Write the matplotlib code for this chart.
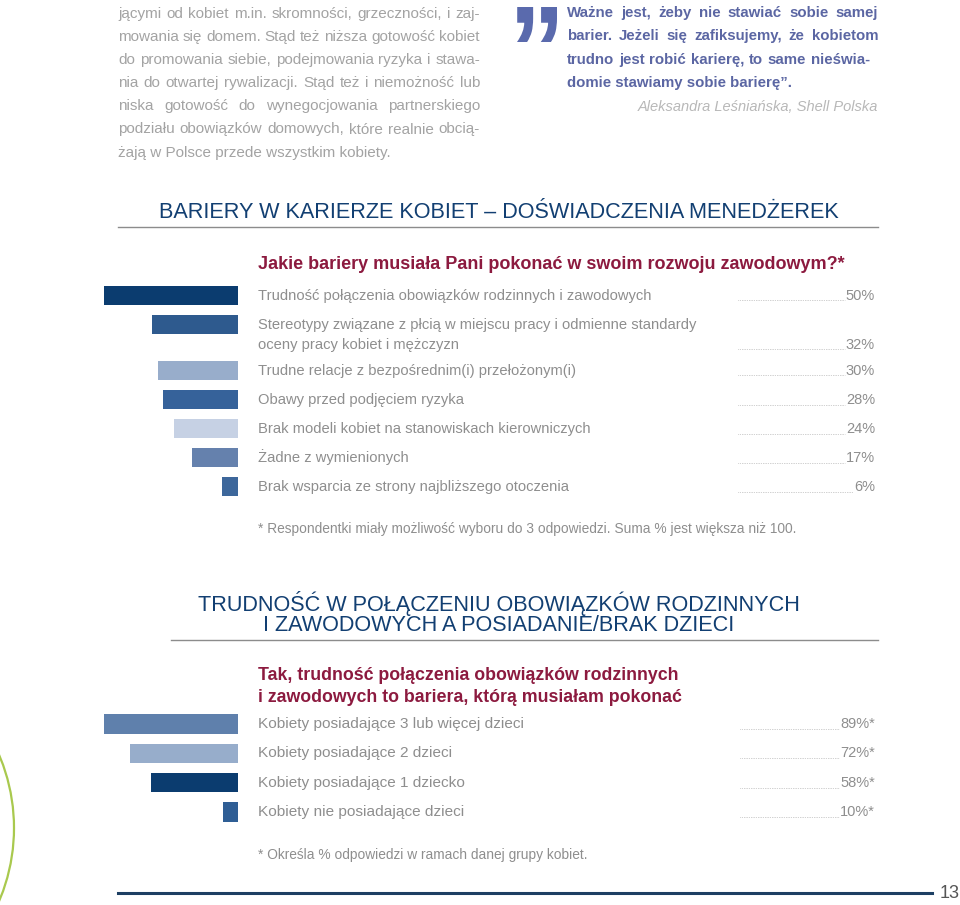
import matplotlib
matplotlib.use('Agg')
import matplotlib.pyplot as plt
from matplotlib.patches import Arc, PathPatch
from matplotlib.textpath import TextPath
from matplotlib.font_manager import FontProperties
from matplotlib.transforms import Affine2D

plt.rcParams['font.family'] = ['Liberation Sans', 'DejaVu Sans']

# ---- data -------------------------------------------------------------
intro_lines = [
    "jącymi od kobiet m.in. skromności, grzeczności, i zaj-",
    "mowania się domem. Stąd też niższa gotowość kobiet",
    "do promowania siebie, podejmowania ryzyka i stawa-",
    "nia do otwartej rywalizacji. Stąd też i niemożność lub",
    "niska gotowość do wynegocjowania partnerskiego",
    "podziału obowiązków domowych, które realnie obcią-",
    "żają w Polsce przede wszystkim kobiety.",
]
quote_lines = [
    "Ważne jest, żeby nie stawiać sobie samej",
    "barier. Jeżeli się zafiksujemy, że kobietom",
    "trudno jest robić karierę, to same nieświa-",
    "domie stawiamy sobie barierę”.",
]
quote_author = "Aleksandra Leśniańska, Shell Polska"

title1 = "BARIERY W KARIERZE KOBIET – DOŚWIADCZENIA MENEDŻEREK"
question1 = "Jakie bariery musiała Pani pokonać w swoim rozwoju zawodowym?*"
barriers = [
    "Trudność połączenia obowiązków rodzinnych i zawodowych",
    "Stereotypy związane z płcią w miejscu pracy i odmienne standardy\noceny pracy kobiet i mężczyzn",
    "Trudne relacje z bezpośrednim(i) przełożonym(i)",
    "Obawy przed podjęciem ryzyka",
    "Brak modeli kobiet na stanowiskach kierowniczych",
    "Żadne z wymienionych",
    "Brak wsparcia ze strony najbliższego otoczenia",
]
barrier_pct = [50, 32, 30, 28, 24, 17, 6]
barrier_colors = ['#0b3c6f', '#2e5a8e', '#98adcb', '#36629a', '#c6d1e4', '#6581ad', '#3d679b']
note1 = "* Respondentki miały możliwość wyboru do 3 odpowiedzi. Suma % jest większa niż 100."

title2 = ["TRUDNOŚĆ W POŁĄCZENIU OBOWIĄZKÓW RODZINNYCH",
          "I ZAWODOWYCH A POSIADANIE/BRAK DZIECI"]
question2 = ["Tak, trudność połączenia obowiązków rodzinnych",
             "i zawodowych to bariera, którą musiałam pokonać"]
children_groups = [
    "Kobiety posiadające 3 lub więcej dzieci",
    "Kobiety posiadające 2 dzieci",
    "Kobiety posiadające 1 dziecko",
    "Kobiety nie posiadające dzieci",
]
children_pct = [89, 72, 58, 10]
children_colors = ['#5f80ac', '#97adcb', '#0b3c6f', '#2f5e95']
note2 = "* Określa % odpowiedzi w ramach danej grupy kobiet."

# ---- colours ------------------------------------------------------------
NAVY = '#123f72'
CRIMSON = '#8c1a3f'
GREY = '#8e8e8e'
LIGHT = '#a3a3a3'
QUOTE = '#5b66a3'

W, H = 960, 905
fig = plt.figure(figsize=(W / 100, H / 100), dpi=100)
page = fig.add_axes([0, 0, 1, 1])
page.set_xlim(0, W)
page.set_ylim(H, 0)
page.axis('off')
renderer = fig.canvas.get_renderer()


def text_width(t):
    return t.get_window_extent(renderer).width


def justified(lines, x0, right_edges, y0, dy, **kw):
    # last line stays left-aligned, the others are spread to their right edge
    for i, line in enumerate(lines):
        y = y0 + i * dy
        words = line.split()
        if i == len(lines) - 1:
            page.text(x0, y, line, va='center', **kw)
            continue
        texts = [page.text(0, y, w, va='center', **kw) for w in words]
        widths = [text_width(t) for t in texts]
        gap = (right_edges[i] - x0 - sum(widths)) / (len(words) - 1)
        x = x0
        for t, w in zip(texts, widths):
            t.set_x(x)
            x += w + gap


def bar_panel(labels, values, colors, y_start, pitch, extra, pct_fmt, lead_x0, size):
    # rows: one per label, taller rows for two-line labels
    centers = []
    y = y_start
    for lab in labels:
        centers.append(y)
        y += pitch + extra * lab.count('\n')
    top, bottom = centers[0] - 15, centers[-1] + 15
    right, width_px = 238, 134
    ax = fig.add_axes([(right - width_px) / W, 1 - bottom / H,
                       width_px / W, (bottom - top) / H])
    ax.barh(centers, values, height=19.5, color=colors)
    ax.set_xlim(max(values), 0)
    ax.set_ylim(bottom, top)
    ax.axis('off')

    for c, lab, v in zip(centers, labels, values):
        parts = lab.split('\n')
        for k, p in enumerate(parts):
            page.text(258, c + 20 * k, p, fontsize=size, color=GREY, va='center')
        yl = c + 20 * (len(parts) - 1)
        pt = page.text(875, yl, pct_fmt.format(v), fontsize=10.5, color=GREY,
                       va='center', ha='right')
        x_end = 875 - text_width(pt) - 1
        page.plot([lead_x0, x_end], [yl + 5, yl + 5], ls=(0, (0.6, 1.2)),
                  lw=0.7, color='#b0b0b0')
    return centers


# ---- top: paragraph and quote ----------------------------------------
justified(intro_lines, 118, [480] * len(intro_lines), 14, 23.1,
          fontsize=11, color=LIGHT)

# big closing quote mark, stretched to its box
qpath = TextPath((0, 0), "”", size=1,
                 prop=FontProperties(family='Liberation Sans', weight='bold'))
ext = qpath.get_extents()
qtr = (Affine2D().translate(-ext.x0, -ext.y1)
       .scale(40 / ext.width, -35 / ext.height).translate(517, 7))
page.add_patch(PathPatch(qtr.transform_path(qpath), facecolor='#5a6aad', lw=0))

justified(quote_lines, 567, [878, 878, 870], 13, 23.3, fontsize=10.8,
          fontweight='bold', color=QUOTE)
page.text(878, 107, quote_author, fontsize=10.5, style='italic', color='#b8b8b8',
          va='center', ha='right')

# ---- chart 1 --------------------------------------------------------------
page.text(159, 212, title1, fontsize=15.6, color=NAVY, va='center')
page.plot([118, 878], [227, 227], color='#8c8c8c', lw=1)
page.text(258, 264, question1, fontsize=13, fontweight='bold', color=CRIMSON,
          va='center')
bar_panel(barriers, barrier_pct, barrier_colors, 295.5, 29, 17, "{}%", 738, 10.6)
page.text(258, 529, note1, fontsize=9.9, color=GREY, va='center')

# ---- chart 2 --------------------------------------------------------------
page.text(499, 603, title2[0], fontsize=15.6, color=NAVY, va='center', ha='center')
page.text(499, 625, title2[1], fontsize=15.6, color=NAVY, va='center', ha='center')
page.plot([171, 878], [640, 640], color='#8c8c8c', lw=1)
page.text(258, 675, question2[0], fontsize=12.8, fontweight='bold', color=CRIMSON,
          va='center')
page.text(258, 697, question2[1], fontsize=12.8, fontweight='bold', color=CRIMSON,
          va='center')
bar_panel(children_groups, children_pct, children_colors, 724, 29.3, 0, "{}%*", 740, 11.1)
page.text(258, 855, note2, fontsize=9.9, color=GREY, va='center')

# ---- page furniture -------------------------------------------------------
page.plot([118, 932], [893, 893], color='#1d3f63', lw=2.2)
page.text(940, 893, "13", fontsize=13, color='#555555', va='center')
page.add_patch(Arc((-173, 828), 374, 374, theta1=-35, theta2=35,
                   color='#a9c94e', lw=1.6))

fig.savefig('out.png', dpi=100)
